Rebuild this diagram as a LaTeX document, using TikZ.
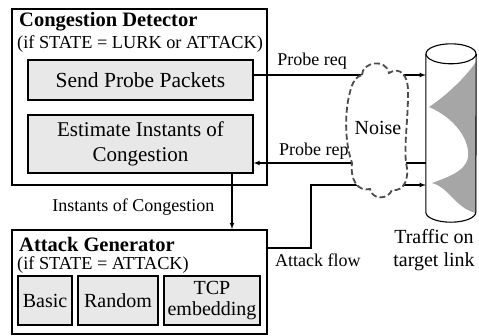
\documentclass[tikz,border=0pt]{standalone}
\usepackage{fontspec}
\setmainfont{Liberation Serif}
\usetikzlibrary{arrows, positioning}

\begin{document}
\begin{tikzpicture}[x=1pt, y=-1pt, >=latex,
    outer/.style={draw, line width=2pt, inner sep=0pt},
    inner/.style={draw, line width=1.2pt, fill=gray!18, inner sep=0pt, align=center,
      font=\fontsize{20}{24}\selectfont},
    title/.style={anchor=west, inner sep=0pt, font=\fontsize{20.5}{24}\selectfont\bfseries},
    cond/.style={anchor=west, inner sep=0pt, font=\fontsize{18.3}{22}\selectfont},
    lbl/.style={inner sep=0pt, font=\fontsize{18}{22}\selectfont},
    flow/.style={->, line width=1.1pt}]
  \useasboundingbox (0,0) rectangle (479,335);

  % congestion detector
  \node[outer, minimum width=255pt, minimum height=176pt] (detector) at (139.5,97) {};
  \node[title] (dettitle) at (19,22) {Congestion Detector};
  \node[cond] (detcond) at (17,44.5) {(if STATE = LURK or ATTACK)};
  \node[inner, minimum width=225pt, minimum height=40pt, font=\fontsize{21.5}{25}\selectfont] (send) at (140.5,80) {Send Probe Packets};
  \node[inner, minimum width=225pt, minimum height=58pt, font=\fontsize{21}{25}\selectfont] (estimate) at (140.5,144) {Estimate Instants of\\Congestion};

  % attack generator
  \node[outer, minimum width=255pt, minimum height=104pt] (generator) at (139.5,282) {};
  \node[title] (gentitle) at (19,244) {Attack Generator};
  \node[cond] (gencond) at (17,265) {(if STATE = ATTACK)};
  \node[inner, minimum width=54pt, minimum height=49pt] (basic) at (45,300.5) {Basic};
  \node[inner, minimum width=80pt, minimum height=49pt] (random) at (118,300.5) {Random};
  \node[inner, minimum width=96pt, minimum height=49pt, font=\fontsize{20}{21}\selectfont] (tcp) at (212,300.5) {TCP\\embedding};

  % target link
  \node[minimum width=50pt, minimum height=158pt, inner sep=0pt] (link) at (451,133) {};
  \fill[black!35] (476,62) .. controls (462,82) and (440,100) .. (429,107)
    .. controls (455,118) and (470,140) .. (468,157)
    .. controls (466,172) and (445,178) .. (432,183)
    .. controls (450,188) and (455,208) .. (476,213) -- cycle;
  \draw[line width=1.1pt] (link.north west) -- (link.south west)
    arc[start angle=180, end angle=360, x radius=25pt, y radius=10pt] -- (link.north east);
  \filldraw[fill=white, line width=1.1pt] (link.north) ellipse [x radius=25pt, y radius=10pt];
  \node[lbl, align=center, font=\fontsize{20}{23}\selectfont] (traffic) at (434,250) {Traffic on\\target link};

  \coordinate (bend) at (311,185);
  \coordinate (tap) at (232,173);

  \path[flow]
    (send.east |- 0,75) edge node[lbl, pos=0.34, above=5pt] {Probe req} (link.west |- 0,75)
    (link.west |- 0,163) edge node[lbl, pos=0.65, above=3pt] {Probe rep} (estimate.east |- 0,163)
    (tap) edge node[lbl, pos=0.61, left=17pt] {Instants of Congestion} (tap |- generator.north);
  \draw[flow] (generator.east |- 0,248) -| (bend) -- (bend -| link.west);
  \node[lbl, anchor=north west] (flowlbl) at (275,254) {Attack flow};

  % noise
  \filldraw[fill=white, draw=black!70, line width=1.8pt, dash pattern=on 6pt off 3pt]
    (362,75) .. controls (362,62) and (386,58) .. (389,73)
    .. controls (400,66) and (409,75) .. (408,95)
    .. controls (408,120) and (404,145) .. (406,163)
    .. controls (410,178) and (404,192) .. (392,190)
    .. controls (388,200) and (372,200) .. (370,189)
    .. controls (358,192) and (350,180) .. (352,163)
    .. controls (344,140) and (345,110) .. (350,92)
    .. controls (352,82) and (357,76) .. (362,75) -- cycle;
  \node[font=\fontsize{20}{24}\selectfont, inner sep=0pt] (noise) at (378,128) {Noise};
\end{tikzpicture}
\end{document}
